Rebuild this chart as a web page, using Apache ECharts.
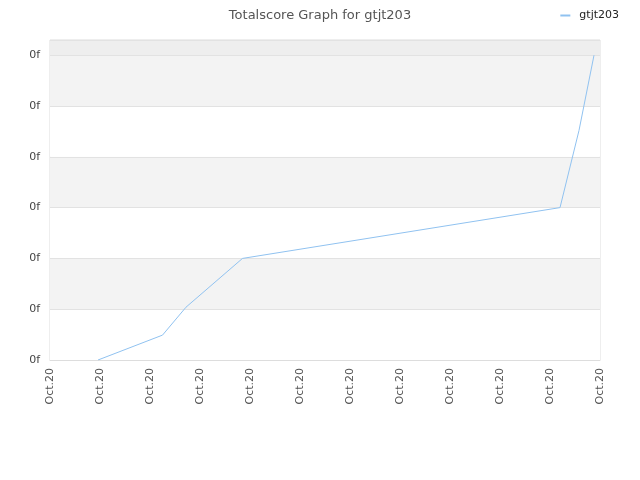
<!DOCTYPE html>
<html><head><meta charset="utf-8">
<script src="https://cdn.jsdelivr.net/npm/echarts@6/dist/echarts.min.js"></script>
<style>html,body{margin:0;padding:0;background:#fff}#c{width:640px;height:480px}</style>
</head><body><div id="c"></div>
<script>
var xTickLabels = ['Oct.20','Oct.20','Oct.20','Oct.20','Oct.20','Oct.20','Oct.20','Oct.20','Oct.20','Oct.20','Oct.20','Oct.20'];
var yTickLabel = '0f';
var seriesName = 'gtjt203';
var xValues = [0.96, 2.25, 2.72, 3.85, 10.2, 10.58, 10.88];
var yValues = [0, 0.49, 1.04, 2.0, 3.0, 4.52, 6.0];

var chart = echarts.init(document.getElementById('c'));
chart.setOption({
  animation: false,
  title: {text: 'Totalscore Graph for gtjt203', left: 'center', top: 4,
    textStyle: {fontSize: 13, fontWeight: 'normal', color: '#555', fontFamily: 'DejaVu Sans'}},
  legend: {right: 16, top: 5, itemWidth: 10, itemHeight: 2, itemGap: 6,
    icon: 'rect',
    textStyle: {fontSize: 11, color: '#222', fontFamily: 'DejaVu Sans', padding: [0, 0, 0, 4]},
    data: [seriesName]},
  grid: {left: 50, right: 40, top: 40, bottom: 120, show: true, borderColor: '#ddd', borderWidth: 1},
  xAxis: {type: 'value', min: 0, max: 11, interval: 1,
    axisLine: {lineStyle: {color: '#ddd'}}, axisTick: {show: false},
    splitLine: {show: false},
    axisLabel: {rotate: 90, color: '#555', fontSize: 11, fontFamily: 'DejaVu Sans', margin: 8,
      formatter: function(v){ return xTickLabels[Math.round(v)] || ''; }}},
  yAxis: {type: 'value', min: 0, max: 6.3, interval: 1,
    axisLine: {show: false}, axisTick: {show: false},
    splitLine: {show: true, lineStyle: {color: '#e2e2e2'}},
    splitArea: {show: true, areaStyle: {color: ['#ffffff','#f3f3f3','#ffffff','#f3f3f3','#ffffff','#f3f3f3','#eeeeee']}},
    axisLabel: {color: '#444', fontSize: 11, fontFamily: 'DejaVu Sans', margin: 10,
      showMaxLabel: false,
      formatter: function(v){ return yTickLabel; }}},
  series: [{name: seriesName, type: 'line', symbol: 'none', smooth: false,
    lineStyle: {color: '#90c2f0', width: 1}, itemStyle: {color: '#90c2f0'},
    data: xValues.map(function(x, i){ return [x, yValues[i]]; })}]
});
</script></body></html>
